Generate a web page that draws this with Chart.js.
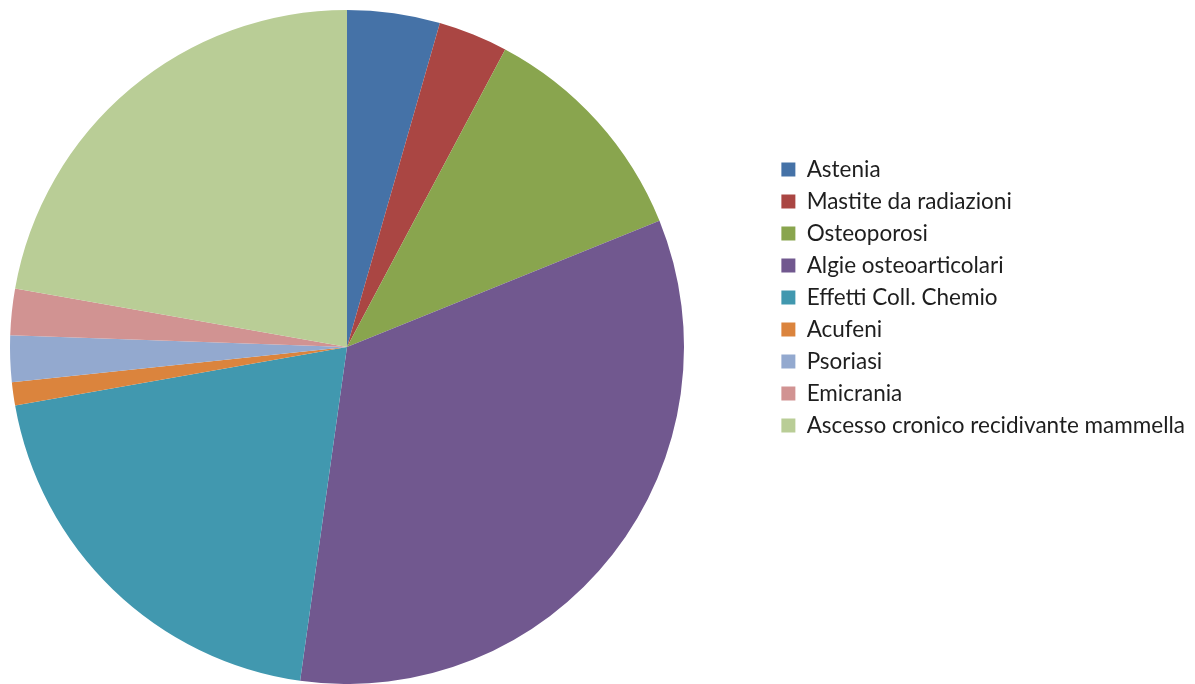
<!DOCTYPE html>
<html>
<head>
<meta charset="utf-8">
<script src="https://cdn.jsdelivr.net/npm/chart.js@4"></script>
<style>
  html, body { margin: 0; padding: 0; background: #fff; }
  #wrap { width: 1195px; height: 684px; }
</style>
</head>
<body>
<div id="wrap"><canvas id="torta"></canvas></div>
<script>
const categorie = [
	"Astenia",
	"Mastite da radiazioni",
	"Osteoporosi",
	"Algie osteoarticolari",
	"Effetti Coll. Chemio",
	"Acufeni",
	"Psoriasi",
	"Emicrania",
	"Ascesso cronico recidivante mammella"
];
const casi = [4, 3, 10, 30, 18, 1, 2, 2, 20];
const colori = ["#4572A7", "#AA4643", "#89A54E", "#71588F", "#4198AF", "#DB843D", "#93A9CF", "#D19392", "#B9CD96"];

// la torta sta a sinistra, la legenda a destra con uno spazio in mezzo
const areaTorta = {
	id: 'areaTorta',
	afterLayout(chart) {
		const a = chart.chartArea;
		a.left = 0;
		a.top = 10;
		a.right = 694;
		a.bottom = chart.height;
		a.width = a.right - a.left;
		a.height = a.bottom - a.top;
	}
};

let torta = document.getElementById("torta");
var myChart = new Chart(torta, {
	type: 'pie',
	data: {
		labels: categorie,
		datasets: [{
			data: casi,
			backgroundColor: colori,
			borderWidth: 0
		}]
	},
	options: {
		responsive: true,
		maintainAspectRatio: false,
		animation: false,
		layout: {
			padding: { top: 10, bottom: 99, right: 0 }
		},
		plugins: {
			legend: {
				display: true,
				position: 'right',
				align: 'center',
				labels: {
					boxWidth: 14,
					boxHeight: 14,
					padding: 9.5,
					color: '#1e1e1e',
					font: { family: 'Lato', size: 22.5 }
				}
			},
			tooltip: { enabled: false }
		}
	},
	plugins: [areaTorta]
});
</script>
</body>
</html>
